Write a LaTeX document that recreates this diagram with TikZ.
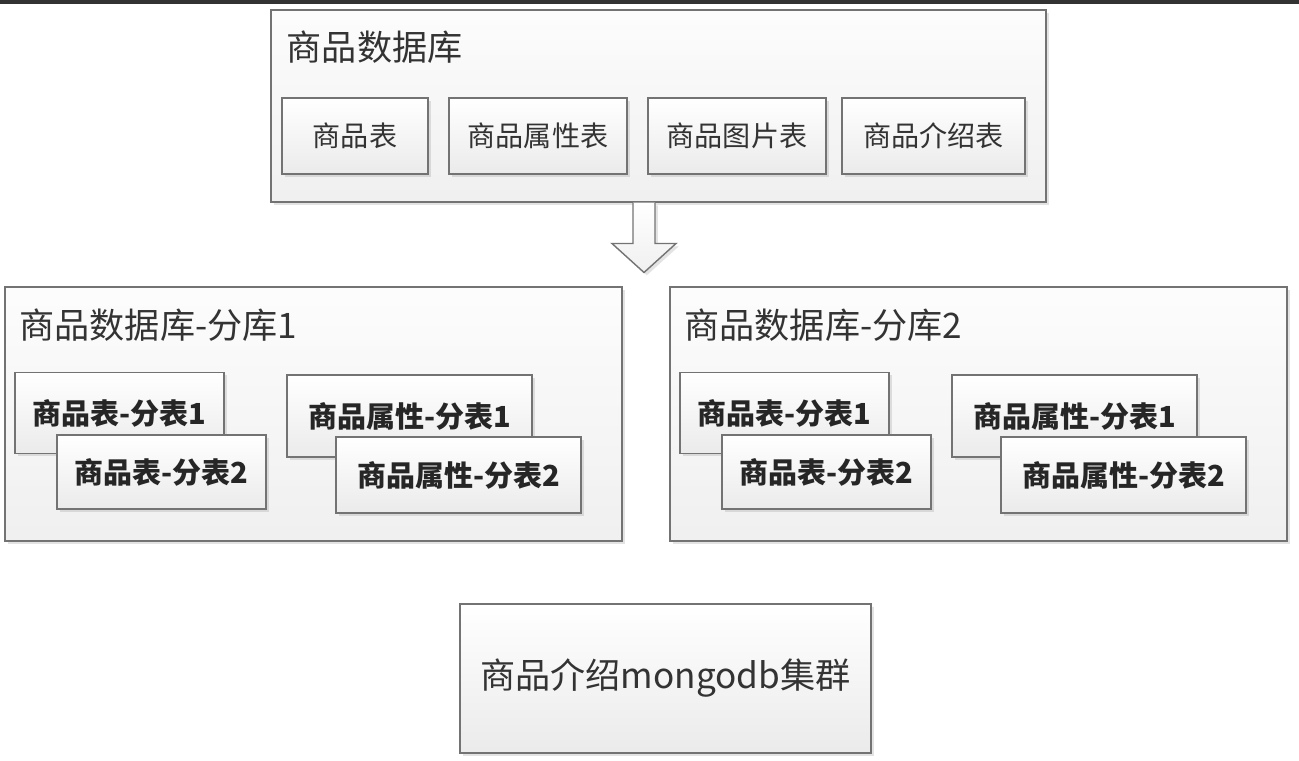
\documentclass[tikz,border=0pt]{standalone}
\usepackage{fontspec}
\setmainfont{Noto Sans CJK SC}
\usetikzlibrary{shadows}

\begin{document}
\begin{tikzpicture}[x=0.02cm,y=-0.02cm,
  box/.style={draw=black!55,line width=0.8pt,rectangle,inner sep=0,top color=white,bottom color=black!8,
    drop shadow={shadow xshift=1.6pt,shadow yshift=-1.6pt,opacity=0.22}},
  dbbox/.style={box,top color=black!1,bottom color=black!6},
  tblbox/.style={box,font=\fontsize{16}{18}\selectfont,text=black!80},
  subbox/.style={box,font=\fontsize{16.5}{18}\selectfont\bfseries,text=black!85},
  title/.style={anchor=north west,inner sep=0,font=\fontsize{20}{22}\selectfont,text=black!80},
  blockarrow/.style={draw=black!55,line width=0.8pt,top color=white,bottom color=black!6,
    drop shadow={shadow xshift=1.6pt,shadow yshift=-1.6pt,opacity=0.22}}]
\useasboundingbox (0,0) rectangle (1299,761);
\fill[black!80] (0,0) rectangle (1299,4);

% product database
\node[dbbox,minimum width=15.5cm,minimum height=3.84cm] (db) at (658.5,106) {};
\node[title] (dbt) at ([shift={(16,21)}]db.north west) {商品数据库};
\foreach \n/\cx/\w/\txt in {t1/355/2.92/商品表, t2/538/3.56/商品属性表, t3/737/3.56/商品图片表, t4/933.5/3.66/商品介绍表}{%
  \node[tblbox,minimum width=\w cm,minimum height=1.52cm] (db\n) at (\cx,136) {\txt};}

% split arrow
\coordinate (arr) at (644,202.5);
\draw[blockarrow] (arr) ++(-11,0) -- ++(0,41) -- ++(-21,0) -- ++(32,29) -- ++(32,-29) -- ++(-21,0) -- ++(0,-41);

% shards
\foreach \k/\L in {1/5,2/670}{%
  \node[dbbox,minimum width=12.35cm,minimum height=5.08cm] (s\k) at (\L+308.5,414) {};
  \node[title] (s\k-t) at ([shift={(15,22)}]s\k.north west) {商品数据库-分库\k};
  \node[subbox,minimum width=4.18cm,minimum height=1.62cm] (s\k-a) at (\L+114.5,413) {商品表-分表1};
  \node[subbox,minimum width=4.18cm,minimum height=1.48cm] (s\k-b) at (\L+156.5,472) {商品表-分表2};
  \node[subbox,minimum width=4.9cm,minimum height=1.64cm] (s\k-c) at (\L+404.5,416) {商品属性-分表1};
  \node[subbox,minimum width=4.9cm,minimum height=1.52cm] (s\k-d) at (\L+453.5,475) {商品属性-分表2};}

% mongodb
\node[box,minimum width=8.22cm,minimum height=2.98cm,font=\fontsize{20}{22}\selectfont,text=black!80] (mg) at (665.5,678.5) {商品介绍mongodb集群};
\end{tikzpicture}
\end{document}
